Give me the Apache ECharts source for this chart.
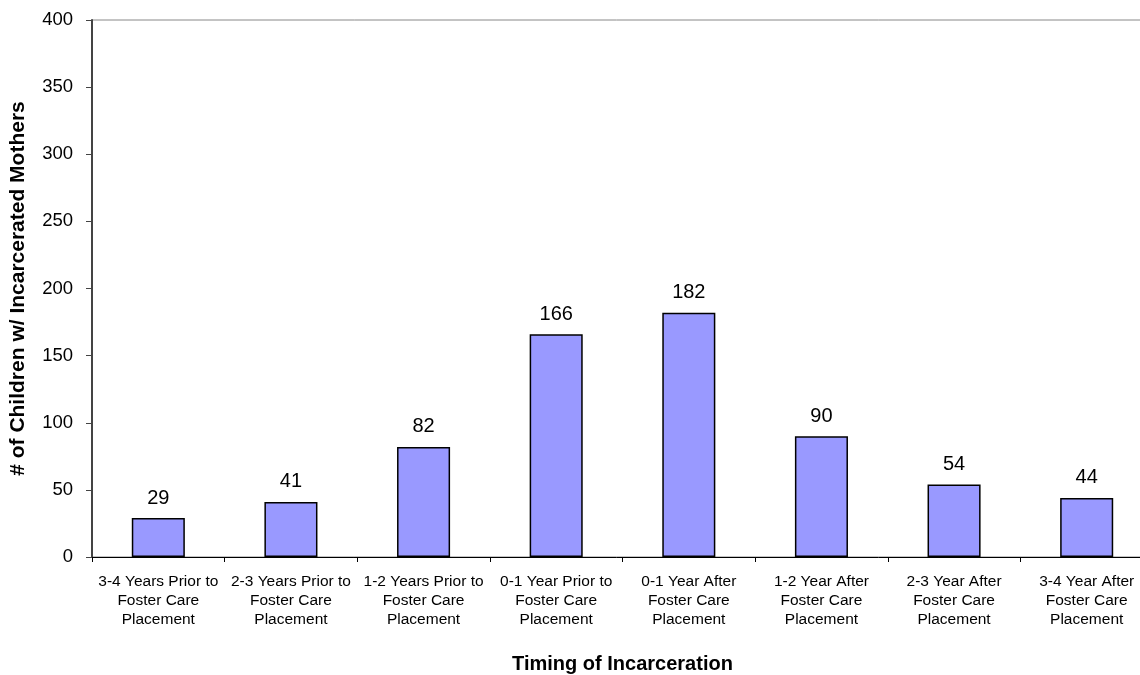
<!DOCTYPE html>
<html>
<head>
<meta charset="utf-8">
<script src="https://cdn.jsdelivr.net/npm/echarts@6/dist/echarts.min.js"></script>
<style>
  html, body { margin: 0; padding: 0; background: #fff; }
  #chart { width: 1140px; height: 675px; }
</style>
</head>
<body>
<div id="chart"></div>
<script>
const categories = [
  '3-4 Years Prior to\nFoster Care\nPlacement',
  '2-3 Years Prior to\nFoster Care\nPlacement',
  '1-2 Years Prior to\nFoster Care\nPlacement',
  '0-1 Year Prior to\nFoster Care\nPlacement',
  '0-1 Year After\nFoster Care\nPlacement',
  '1-2 Year After\nFoster Care\nPlacement',
  '2-3 Year After\nFoster Care\nPlacement',
  '3-4 Year After\nFoster Care\nPlacement'
];
const counts = [29, 41, 82, 166, 182, 90, 54, 44];

const FONT = 'Liberation Sans, Arial, sans-serif';

var chart = echarts.init(document.getElementById('chart'));
chart.setOption({
  animation: false,
  grid: {
    left: 92, right: -13, top: 20, bottom: 118,
    outerBoundsMode: 'none',
    containLabel: false,
    show: true, borderColor: '#888', borderWidth: 1, backgroundColor: 'transparent'
  },
  xAxis: {
    type: 'category',
    data: categories,
    name: 'Timing of Incarceration',
    nameLocation: 'middle',
    nameGap: 97,
    nameTextStyle: { fontFamily: FONT, fontSize: 20, fontWeight: 'bold', color: '#000' },
    axisLine: { lineStyle: { color: '#000', width: 1 } },
    axisTick: { show: true, length: 5, lineStyle: { color: '#000' } },
    axisLabel: { fontFamily: FONT, fontSize: 15.5, color: '#000', lineHeight: 19, margin: 15, interval: 0 }
  },
  yAxis: {
    type: 'value',
    min: 0, max: 400, interval: 50,
    name: '# of Children w/ Incarcerated Mothers',
    nameLocation: 'middle',
    nameGap: 63,
    nameTextStyle: { fontFamily: FONT, fontSize: 21, fontWeight: 'bold', color: '#000' },
    axisLine: { show: true, lineStyle: { color: '#444', width: 2 } },
    axisTick: { show: true, length: 6, lineStyle: { color: '#444' } },
    axisLabel: { fontFamily: FONT, fontSize: 18.5, color: '#000', margin: 19 },
    splitLine: { show: false }
  },
  series: [{
    type: 'bar',
    data: counts,
    barWidth: '40%',
    itemStyle: { color: '#9999FF', borderColor: '#000', borderWidth: 1.5 },
    label: {
      show: true, position: 'top', distance: 10,
      fontFamily: FONT, fontSize: 20, color: '#000'
    }
  }]
});
</script>
</body>
</html>
